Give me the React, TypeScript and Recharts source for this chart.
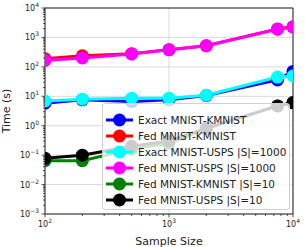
import React from 'react'
import { LineChart, Line, XAxis, YAxis, CartesianGrid, ReferenceArea } from 'recharts'

const sampleSizes = [100, 200, 500, 1000, 2000, 7500, 10000]
const exactKmnist = [5.8, 7.6, 6.6, 7.6, 10.6, 36, 70]
const fedKmnist = [190, 238, 280, 385, 525, 1950, 2300]
const exactUsps = [6.9, 8.0, 8.6, 8.6, 10.8, 45, 49]
const fedUsps = [165, 200, 275, 380, 520, 1900, 2250]
const fedKmnist10 = [0.065, 0.065, 0.16, 0.25, 0.8, 4.7, 6.0]
const fedUsps10 = [0.078, 0.1, 0.2, 0.3, 0.82, 4.7, 6.1]

const xMajor = [100, 1000, 10000]
const yMajor = [0.001, 0.01, 0.1, 1, 10, 100, 1000, 10000]

const series = [
  { key: 'exactKmnist', name: 'Exact MNIST-KMNIST', color: '#0000ff', values: exactKmnist },
  { key: 'fedKmnist', name: 'Fed MNIST-KMNIST', color: '#ff0000', values: fedKmnist },
  { key: 'exactUsps', name: 'Exact MNIST-USPS |S|=1000', color: '#00ffff', values: exactUsps },
  { key: 'fedUsps', name: 'Fed MNIST-USPS |S|=1000', color: '#ff00ff', values: fedUsps },
  { key: 'fedKmnist10', name: 'Fed MNIST-KMNIST |S|=10', color: '#008000', values: fedKmnist10 },
  { key: 'fedUsps10', name: 'Fed MNIST-USPS |S|=10', color: '#000000', values: fedUsps10 },
]

const data = sampleSizes.map((x, i) => {
  const row: Record<string, number> = { x }
  series.forEach(s => { row[s.key] = s.values[i] })
  return row
})

// major decades plus the 2..9 minor ticks in between
const withMinor = (majors: number[]) => {
  const out: number[] = []
  majors.forEach((m, i) => {
    out.push(m)
    if (i < majors.length - 1) for (let k = 2; k <= 9; k++) out.push(m * k)
  })
  return out
}

const isMajor = (v: number) => Math.abs(Math.log10(v) - Math.round(Math.log10(v))) < 1e-6
const expOf = (v: number) => {
  const e = Math.round(Math.log10(v))
  return e < 0 ? '\u2212' + Math.abs(e) : String(e)
}

const font = '"DejaVu Sans", sans-serif'
const PLOT_LEFT = 45
const PLOT_BOTTOM = 214

function YTick(props: any) {
  const { y, payload } = props
  const major = isMajor(payload.value)
  return (
    <g>
      <line x1={PLOT_LEFT - (major ? 3.5 : 2)} x2={PLOT_LEFT} y1={y} y2={y} stroke="#222" strokeWidth={0.8} />
      {major && (
        <text x={PLOT_LEFT - 6} y={y + 3} textAnchor="end" fontSize={8} fill="#222" fontFamily={font}>
          10<tspan dy={-4} fontSize={6}>{expOf(payload.value)}</tspan>
        </text>
      )}
    </g>
  )
}

function XTick(props: any) {
  const { x, payload } = props
  const major = isMajor(payload.value)
  return (
    <g>
      <line x1={x} x2={x} y1={PLOT_BOTTOM} y2={PLOT_BOTTOM + (major ? 3.5 : 2)} stroke="#222" strokeWidth={0.8} />
      {major && (
        <text x={x} y={PLOT_BOTTOM + 13} textAnchor="middle" fontSize={8} fill="#222" fontFamily={font}>
          10<tspan dy={-4} fontSize={6}>{expOf(payload.value)}</tspan>
        </text>
      )}
    </g>
  )
}

function LegendBox() {
  return (
    <div
      style={{
        position: 'absolute',
        left: 102,
        top: 103,
        width: 188,
        height: 107,
        boxSizing: 'border-box',
        background: 'rgba(255,255,255,0.8)',
        border: '1px solid #d0d0d0',
        borderRadius: 3,
        padding: '8px 0 0 2px',
        fontFamily: font,
        fontSize: 10.5,
        color: '#222',
      }}
    >
      {series.map(s => (
        <div key={s.key} style={{ display: 'flex', alignItems: 'center', height: 16 }}>
          <svg width={30} height={16} style={{ flex: 'none' }}>
            <line x1={1} x2={28} y1={8} y2={8} stroke={s.color} strokeWidth={3} />
            <circle cx={14.5} cy={8} r={6.5} fill={s.color} />
          </svg>
          <span style={{ marginLeft: 3, whiteSpace: 'nowrap' }}>{s.name}</span>
        </div>
      ))}
    </div>
  )
}

export default function App() {
  return (
    <div style={{ position: 'absolute', left: 0, top: 0, width: 305, height: 247, background: '#fff' }}>
      <LineChart width={305} height={247} data={data} margin={{ top: 8, right: 12, bottom: 0, left: 0 }}>
        <CartesianGrid stroke="#cfcfcf" strokeWidth={0.8} horizontalValues={yMajor} verticalValues={xMajor} />
        <XAxis
          dataKey="x"
          type="number"
          scale="log"
          domain={[100, 10000]}
          ticks={withMinor(xMajor)}
          interval={0}
          allowDataOverflow
          height={33}
          axisLine={false}
          tickLine={false}
          tick={<XTick />}
          label={{ value: 'Sample Size', position: 'insideBottom', offset: 2, fontSize: 11, fill: '#222', fontFamily: font }}
        />
        <YAxis
          type="number"
          scale="log"
          domain={[0.001, 10000]}
          ticks={withMinor(yMajor)}
          interval={0}
          allowDataOverflow
          width={45}
          axisLine={false}
          tickLine={false}
          tick={<YTick />}
          label={{ value: 'Time (s)', angle: -90, position: 'insideLeft', offset: 6, fontSize: 11, fill: '#222', fontFamily: font, style: { textAnchor: 'middle' } }}
        />
        {series.map(s => (
          <Line
            key={s.key}
            dataKey={s.key}
            name={s.name}
            stroke={s.color}
            strokeWidth={3}
            dot={{ r: 6.5, fill: s.color, stroke: s.color, strokeWidth: 0 }}
            activeDot={false}
            isAnimationActive={false}
          />
        ))}
        <ReferenceArea x1={100} x2={10000} y1={0.001} y2={10000} fill="none" stroke="#222" strokeWidth={1} ifOverflow="visible" />
      </LineChart>
      <LegendBox />
    </div>
  )
}
